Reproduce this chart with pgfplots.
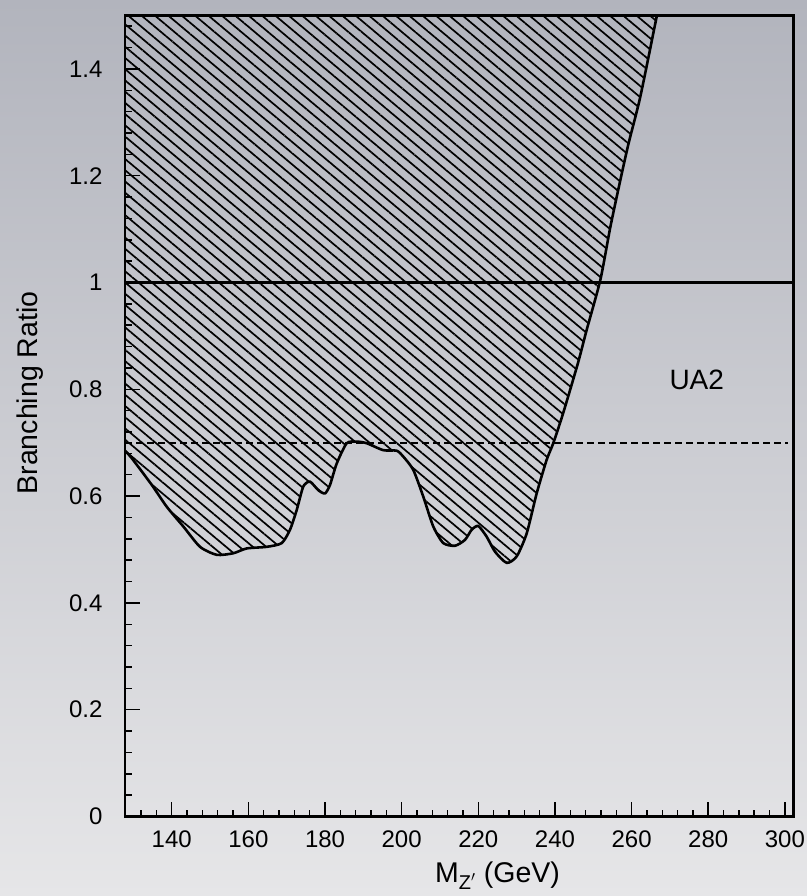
\documentclass[border=0pt]{standalone}
\usepackage{fontspec}
\setmainfont{Liberation Sans}
\usepackage{pgfplots}
\usepackage{pgfplotstable}
\pgfplotsset{compat=1.18}
\usetikzlibrary{patterns.meta}

\definecolor{bgtop}{RGB}{178,180,189}
\definecolor{bgbot}{RGB}{230,230,232}

% lower edge of the excluded region, M_Z' (GeV) vs branching ratio
\pgfplotstableread{
x y
127.8 0.685
129.56 0.671
134.78 0.621
138.70 0.580
143.03 0.543
147.38 0.505
151.74 0.490
156.07 0.493
159.57 0.502
164.79 0.505
168.70 0.512
170.86 0.537
172.61 0.574
174.33 0.618
176.08 0.627
178.25 0.611
179.99 0.605
181.30 0.621
183.05 0.661
185.66 0.699
188.27 0.702
190.87 0.699
195.20 0.686
198.70 0.685
200.42 0.674
203.03 0.649
205.64 0.599
208.25 0.543
210.86 0.512
213.91 0.507
216.52 0.518
218.27 0.537
219.99 0.544
222.18 0.524
224.35 0.496
227.40 0.475
230.01 0.487
232.62 0.530
235.23 0.605
237.84 0.668
239.56 0.699
242.17 0.756
246.00 0.849
248.27 0.911
251.85 1.005
254.46 1.104
257.07 1.192
259.23 1.261
262.28 1.348
266.60 1.500
}\limitcurve

% same edge, closed along the top-left corner of the frame
\pgfplotstableread{
x y
127.8 1.500
127.8 0.685
129.56 0.671
134.78 0.621
138.70 0.580
143.03 0.543
147.38 0.505
151.74 0.490
156.07 0.493
159.57 0.502
164.79 0.505
168.70 0.512
170.86 0.537
172.61 0.574
174.33 0.618
176.08 0.627
178.25 0.611
179.99 0.605
181.30 0.621
183.05 0.661
185.66 0.699
188.27 0.702
190.87 0.699
195.20 0.686
198.70 0.685
200.42 0.674
203.03 0.649
205.64 0.599
208.25 0.543
210.86 0.512
213.91 0.507
216.52 0.518
218.27 0.537
219.99 0.544
222.18 0.524
224.35 0.496
227.40 0.475
230.01 0.487
232.62 0.530
235.23 0.605
237.84 0.668
239.56 0.699
242.17 0.756
246.00 0.849
248.27 0.911
251.85 1.005
254.46 1.104
257.07 1.192
259.23 1.261
262.28 1.348
266.60 1.500
}\excluded

\begin{document}
\begin{tikzpicture}
\shade[top color=bgtop, bottom color=bgbot] (0bp,0bp) rectangle (807bp,896bp);
\begin{axis}[
  at={(125bp,79.5bp)}, anchor=south west,
  scale only axis, width=668.3bp, height=801bp,
  xmin=127.8, xmax=302.2, ymin=0, ymax=1.5,
  axis on top,
  axis line style={line width=2.6pt},
  tick align=inside, tick pos=left,
  every tick/.style={black, line width=1.5pt},
  major tick length=15bp, minor tick length=7bp,
  xtick={140,160,...,300},
  minor xtick={132,136,...,300},
  ytick={0,0.2,0.4,0.6,0.8,1,1.2,1.4},
  minor ytick={0,0.04,...,1.49},
  /pgf/number format/assume math mode=true,
  ticklabel style={font=\fontsize{24bp}{28bp}\selectfont},
  xticklabel style={yshift=-11bp},
  yticklabel style={xshift=-19bp},
  xlabel={M\textsubscript{Z$'$} (GeV)},
  ylabel={Branching Ratio},
  every axis x label/.style={at={(axis description cs:0.5574,-0.0821)}, anchor=base,
    font=\fontsize{28.5bp}{32bp}\selectfont},
  every axis y label/.style={at={(axis description cs:-0.1421,0.5287)}, rotate=90, anchor=center,
    font=\fontsize{28.5bp}{32bp}\selectfont},
]
% hatched excluded region
\addplot[draw=none, mark=none, pattern={Lines[angle=-40,distance=8.6bp,line width=1.7bp]}, pattern color=black]
  table {\excluded} -- cycle;
% its boundary
\addplot[black, line width=2.6pt, smooth, tension=0.4, mark=none] table {\limitcurve};
% reference lines
\addplot[black, line width=2.6pt, mark=none] coordinates {(127.8,1) (302.2,1)};
\addplot[black, line width=2.2pt, dash pattern=on 7bp off 4bp, mark=none] coordinates {(127.8,0.7) (300.8,0.7)};
\node[font=\fontsize{28bp}{32bp}\selectfont] at (axis cs:277,0.817) {UA2};
\end{axis}
\pgfresetboundingbox
\path[use as bounding box] (0bp,0bp) rectangle (807bp,896bp);
\end{tikzpicture}
\end{document}
